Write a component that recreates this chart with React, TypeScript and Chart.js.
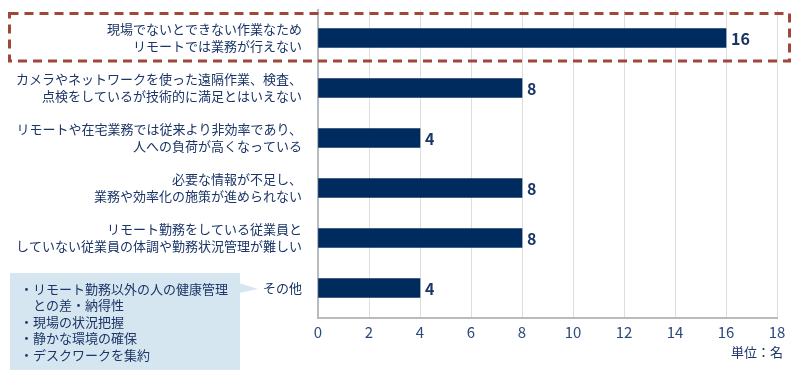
import React, { useEffect, useRef } from "react";
import { Chart, registerables } from "chart.js";

Chart.register(...registerables);

const categoryLines: string[][] = [
  ["現場でないとできない作業なため", "リモートでは業務が行えない"],
  ["カメラやネットワークを使った遠隔作業、検査、", "点検をしているが技術的に満足とはいえない"],
  ["リモートや在宅業務では従来より非効率であり、", "人への負荷が高くなっている"],
  ["必要な情報が不足し、", "業務や効率化の施策が進められない"],
  ["リモート勤務をしている従業員と", "していない従業員の体調や勤務状況管理が難しい"],
  ["その他"],
];
const values: number[] = [16, 8, 4, 8, 8, 4];
const xTickMax = 18;
const xTickStep = 2;
const calloutLines: string[] = [
  "・リモート勤務以外の人の健康管理",
  "　との差・納得性",
  "・現場の状況把握",
  "・静かな環境の確保",
  "・デスクワークを集約",
];
const unitLabel = "単位：名";

const FONT = "'Noto Sans CJK JP', 'Noto Sans', sans-serif";
const TEXT = "#1b3567";
const BAR = "#002b5f";

const labelsPlugin = {
  id: "valueLabels",
  afterDatasetsDraw(chart: any) {
    const ctx = chart.ctx;
    const meta = chart.getDatasetMeta(0);
    ctx.save();
    ctx.font = `bold 16px ${FONT}`;
    ctx.fillStyle = TEXT;
    ctx.textBaseline = "middle";
    ctx.textAlign = "left";
    meta.data.forEach((bar: any, i: number) => {
      ctx.fillText(String(values[i]), bar.x + 5, bar.y + 1);
    });
    ctx.restore();
  },
};

const decorPlugin = {
  id: "decor",
  afterDraw(chart: any) {
    const ctx = chart.ctx;
    const y = chart.scales.y;
    ctx.save();

    // category labels on the y axis
    ctx.fillStyle = TEXT;
    ctx.font = `13px ${FONT}`;
    ctx.textBaseline = "middle";
    ctx.textAlign = "right";
    const lh = 17;
    categoryLines.forEach((lines, i) => {
      const cy = y.getPixelForValue(i);
      const startY = cy - ((lines.length - 1) * lh) / 2;
      lines.forEach((line, k) => {
        ctx.fillText(line, 302, startY + k * lh);
      });
    });

    // highlight box around first category
    const y0 = y.getPixelForValue(0);
    ctx.strokeStyle = "#a0473a";
    ctx.lineWidth = 3;
    ctx.setLineDash([9, 6]);
    ctx.strokeRect(9.5, y0 - 24.5, 780, 47.5);
    ctx.setLineDash([]);

    // callout for last category
    const yl = y.getPixelForValue(values.length - 1);
    ctx.fillStyle = "#d6e6f0";
    ctx.fillRect(10, yl - 15, 230, 97);
    ctx.beginPath();
    ctx.moveTo(239, yl - 5);
    ctx.lineTo(258, yl + 1);
    ctx.lineTo(239, yl + 5);
    ctx.closePath();
    ctx.fill();

    ctx.fillStyle = TEXT;
    ctx.font = `13px ${FONT}`;
    ctx.textBaseline = "middle";
    ctx.textAlign = "left";
    calloutLines.forEach((line, i) => {
      ctx.fillText(line, 20, yl + 1 + i * 16.5);
    });

    ctx.textAlign = "right";
    ctx.fillText(unitLabel, 783, 352);
    ctx.restore();
  },
};

export default function App() {
  const ref = useRef<HTMLCanvasElement | null>(null);
  useEffect(() => {
    if (!ref.current) return;
    const chart = new Chart(ref.current, {
      type: "bar",
      data: {
        datasets: [
          {
            data: values.map((v, i) => ({ x: v, y: i })) as any,
            backgroundColor: BAR,
            borderWidth: 0,
            barThickness: 19,
          },
        ],
      },
      options: {
        indexAxis: "y",
        responsive: false,
        animation: false,
        layout: { padding: { top: 10, right: 23, left: 0, bottom: 0 } },
        plugins: { legend: { display: false }, tooltip: { enabled: false } },
        scales: {
          x: {
            type: "linear",
            min: 0,
            max: xTickMax,
            grid: { color: "#dedede", drawTicks: false, lineWidth: 1 },
            border: { color: "#b8bcc0", width: 2 },
            ticks: {
              stepSize: xTickStep,
              color: "#2b4a7a",
              font: { family: FONT, size: 15 },
              padding: 5,
            },
            afterFit(scale: any) {
              scale.height = 62;
            },
          },
          y: {
            type: "linear",
            reverse: true,
            offset: false,
            min: -0.56,
            max: 5.6,
            grid: { display: false, drawTicks: false, offset: false },
            border: { color: "#b8bcc0", width: 2 },
            ticks: { display: false },
            afterFit(scale: any) {
              scale.width = 318;
            },
          },
        },
      },
      plugins: [labelsPlugin, decorPlugin],
    });
    return () => chart.destroy();
  }, []);
  return (
    <div style={{ position: "fixed", left: 0, top: 0, width: 800, height: 380, background: "#fff" }}>
      <canvas ref={ref} width={800} height={380} />
    </div>
  );
}
